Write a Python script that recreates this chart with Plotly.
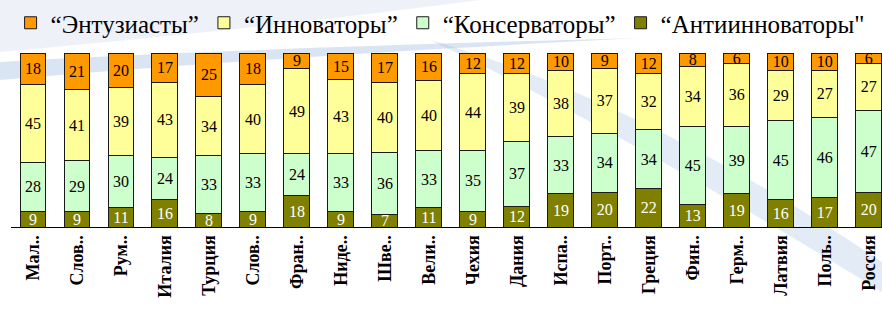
import plotly.graph_objects as go

countries = ["Мал..", "Слов..", "Рум..", "Италия", "Турция", "Слов..", "Фран..",
             "Ниде..", "Шве..", "Вели..", "Чехия", "Дания", "Испа..", "Порт..",
             "Греция", "Фин..", "Герм..", "Латвия", "Поль..", "Россия"]
anti = [9, 9, 11, 16, 8, 9, 18, 9, 7, 11, 9, 12, 19, 20, 22, 13, 19, 16, 17, 20]
conserv = [28, 29, 30, 24, 33, 33, 24, 33, 36, 33, 35, 37, 33, 34, 34, 45, 39, 45, 46, 47]
innov = [45, 41, 39, 43, 34, 40, 49, 43, 40, 40, 44, 39, 38, 37, 32, 34, 36, 29, 27, 27]
enth = [18, 21, 20, 17, 25, 18, 9, 15, 17, 16, 12, 12, 10, 9, 12, 8, 6, 10, 10, 6]

series = [
    ("“Антиинноваторы\"", anti, "#808000", "white"),
    ("“Консерваторы”", conserv, "#CCFFCC", "black"),
    ("“Инноваторы”", innov, "#FFFF99", "black"),
    ("“Энтузиасты”", enth, "#FF9900", "black"),
]

x = list(range(len(countries)))
SERIF = "'Times New Roman', 'Liberation Serif', 'DejaVu Serif', serif"

fig = go.Figure()
for name, vals, color, tcol in series:
    fig.add_trace(go.Bar(
        x=x, y=vals, name=name,
        marker=dict(color=color, line=dict(color="#1a1a1a", width=1)),
        text=[str(v) for v in vals], textposition="inside", textangle=0,
        insidetextanchor="middle", constraintext="none",
        textfont=dict(family=SERIF, size=16, color=tcol),
        hoverinfo="skip",
    ))

# page pixel -> paper coordinates (plot area: x 11..882, y 53..227)
L, R, T, B = 11, 882, 53, 227
def px(xp):
    return (xp - L) / (R - L)
def py(yp):
    return (B - yp) / (B - T)

def path(points_cmds):
    out = []
    for cmd, pts in points_cmds:
        s = cmd
        s += " ".join(f"{px(a):.4f},{py(b):.4f}" for a, b in pts)
        out.append(s)
    return " ".join(out) + " Z"

shapes = [
    dict(type="path", xref="paper", yref="paper", layer="below", line=dict(width=0),
         fillcolor="rgba(205,218,236,0.35)",
         path=path([("M", [(0, 0)]), ("L", [(480, 0)]), ("Q", [(250, 30), (0, 52)])])),
    dict(type="path", xref="paper", yref="paper", layer="below", line=dict(width=0),
         fillcolor="rgba(150,180,220,0.35)",
         path=path([("M", [(0, 62)]), ("Q", [(250, 48), (640, 38)]),
                    ("Q", [(250, 58), (0, 80)])])),
    dict(type="path", xref="paper", yref="paper", layer="below", line=dict(width=0),
         fillcolor="rgba(150,182,222,0.28)",
         path=path([("M", [(430, 40)]), ("Q", [(640, 100), (882, 262)]),
                    ("L", [(882, 292)]), ("Q", [(620, 130), (430, 40)])])),
]

fig.update_layout(
    width=882, height=321,
    margin=dict(l=L, r=0, t=T, b=321 - B, autoexpand=False),
    barmode="stack", bargap=0.41,
    plot_bgcolor="rgba(0,0,0,0)", paper_bgcolor="white",
    font=dict(family=SERIF),
    showlegend=True,
    legend=dict(orientation="h", xref="container", yref="container",
                x=0.012, y=1.0, xanchor="left", yanchor="top",
                traceorder="reversed", bgcolor="rgba(0,0,0,0)",
                font=dict(family=SERIF, size=25, color="black"),
                itemclick=False, itemdoubleclick=False),
    xaxis=dict(range=[-0.5, 19.3], tickmode="array", tickvals=x, ticktext=countries,
               tickangle=-90, showgrid=False, zeroline=False, showline=True,
               linecolor="black", linewidth=1, ticks="",
               tickfont=dict(family=SERIF, size=18, color="black", weight="bold"),
               fixedrange=True),
    yaxis=dict(range=[0, 100], visible=False, showgrid=False, fixedrange=True),
    shapes=shapes,
)

fig.write_html("out.html", config={"displayModeBar": False})
